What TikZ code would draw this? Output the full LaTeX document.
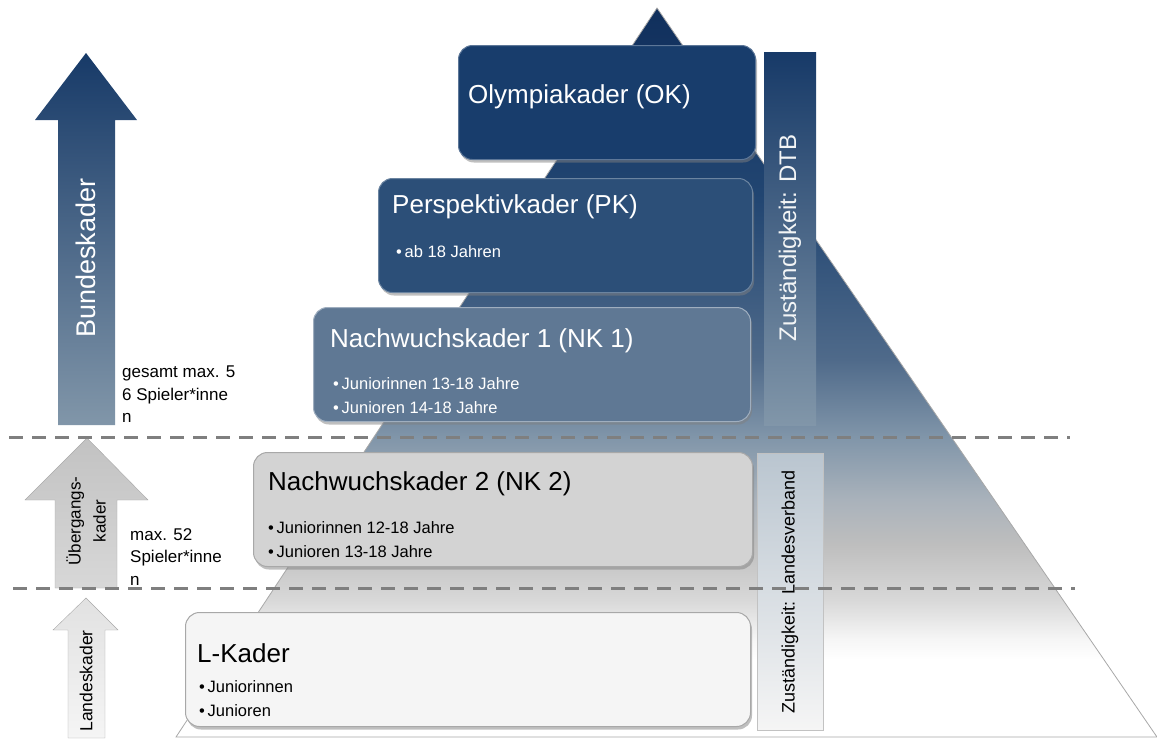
\documentclass[tikz,border=0pt]{standalone}
\usepackage{fontspec}
\setmainfont{Liberation Sans}
\usetikzlibrary{shadows}

% colours of the pyramid shading, bottom to top
\definecolor{pyrA}{HTML}{F6F6F6}
\definecolor{pyrB}{HTML}{D8D8D8}
\definecolor{pyrC}{HTML}{BEBEBE}
\definecolor{pyrD}{HTML}{A9B2BB}
\definecolor{pyrE}{HTML}{8095A9}
\definecolor{pyrF}{HTML}{4F6A8A}
\definecolor{pyrG}{HTML}{224672}
\definecolor{pyrH}{HTML}{102F5C}
\pgfdeclareverticalshading{pyramidshade}{100bp}{color(0bp)=(white); color(30.3bp)=(white);
  color(31.7bp)=(pyrA); color(34.4bp)=(pyrB); color(38.2bp)=(pyrC); color(41.3bp)=(pyrD);
  color(45.6bp)=(pyrE); color(50.9bp)=(pyrF); color(61.8bp)=(pyrG); color(75bp)=(pyrH);
  color(100bp)=(pyrH)}

\begin{document}
\begin{tikzpicture}[x=1pt,y=-1pt,
  kbox/.style={rounded corners=14pt,minimum height=114pt,anchor=north west,line width=1pt,
    drop shadow={shadow xshift=1.5pt,shadow yshift=-3pt,opacity=0.5}},
  ktitle/.style={anchor=base west,inner sep=0pt,font=\fontsize{26}{30}\selectfont},
  kitem/.style={anchor=base west,inner sep=0pt,font=\fontsize{16.5}{20}\selectfont},
  side/.style={anchor=north west,inner sep=0pt,align=left,font=\fontsize{17}{22.5}\selectfont},
  sep/.style={draw=sepgray,line width=3pt,dash pattern=on 14pt off 9pt}]
\definecolor{navy}{HTML}{173A68}
\definecolor{steel}{HTML}{8196A9}
\definecolor{okblue}{HTML}{183D6C}
\definecolor{pkblue}{HTML}{2C4F78}
\definecolor{nkblue}{HTML}{5F7894}
\definecolor{nkgray}{HTML}{D3D3D3}
\definecolor{lgray}{HTML}{F5F5F5}
\definecolor{sepgray}{HTML}{7F7F7F}
\definecolor{rimgray}{HTML}{A8A8A8}
\useasboundingbox (0,0) rectangle (1157,740);

% pyramid
\path[shading=pyramidshade,draw=rimgray,line width=0.8pt] (657,8) -- (1157,737) -- (176,737) -- cycle;

% arrows on the left
\shade[top color=navy,bottom color=steel] (86,53) -- (137,120) -- (115,120) -- (115,425)
  -- (58,425) -- (58,120) -- (35,120) -- cycle;
\node[rotate=90,text=white,font=\fontsize{27}{30}\selectfont] (bund) at (86,258) {Bundeskader};
\shade[top color=nkgray!92!black,bottom color=nkgray!90!white,draw=rimgray] (87,438) -- (148,500) -- (117,500)
  -- (117,588) -- (55,588) -- (55,500) -- (25,500) -- cycle;
\node[rotate=90,align=center,font=\fontsize{17}{25}\selectfont] (ueber) at (86,521) {Übergangs-\\kader};
\shade[top color=lgray!92!black,bottom color=lgray,draw=rimgray] (86,598) -- (118,630) -- (105,630)
  -- (105,738) -- (68,738) -- (68,630) -- (53,630) -- cycle;
\node[rotate=90,font=\fontsize{17.5}{20}\selectfont] (landes) at (86,681) {Landeskader};
\node[side] (gesamt) at (122,366) {gesamt max. 5\\6 Spieler*inne\\n};
\node[side] (max) at (130,528) {max. 52\\Spieler*inne\\n};

% responsibility bars
\shade[top color=navy,bottom color=steel] (764,52) rectangle (816,425);
\node[rotate=90,text=white!90!steel,font=\fontsize{24}{28}\selectfont] (dtb) at (790,238) {Zuständigkeit: DTB};
\shade[top color=steel!55!white,bottom color=lgray,draw=rimgray!70!white] (757,453) rectangle (823,730);
\node[rotate=90,font=\fontsize{18}{22}\selectfont] (lv) at (790,592) {Zuständigkeit: Landesverband};

% squad boxes
\node[kbox,fill=okblue,draw=okblue!70!white,minimum width=297pt] (ok) at (458,45) {};
\node[kbox,fill=pkblue,draw=pkblue!70!white,minimum width=374pt] (pk) at (378,178) {};
\node[kbox,fill=nkblue,draw=nkblue!60!white,minimum width=437pt] (nka) at (313,307) {};
\node[kbox,fill=nkgray,draw=rimgray,minimum width=499pt] (nkb) at (253,452) {};
\node[kbox,fill=lgray,draw=rimgray,minimum width=565pt] (lk) at (185,612) {};

\node[ktitle,text=white] (okt) at (468,103) {Olympiakader (OK)};
\node[ktitle,text=white] (pkt) at (392,213) {Perspektivkader (PK)};
\node[kitem,text=white] (pka) at (396,257) {\textbullet\,ab 18 Jahren};
\node[ktitle,text=white] (nkat) at (330,347) {Nachwuchskader 1 (NK 1)};
\node[kitem,text=white] (nkaa) at (333,389) {\textbullet\,Juniorinnen 13-18 Jahre};
\node[kitem,text=white] (nkab) at (333,413) {\textbullet\,Junioren 14-18 Jahre};
\node[ktitle] (nkbt) at (268,490) {Nachwuchskader 2 (NK 2)};
\node[kitem] (nkba) at (268,533) {\textbullet\,Juniorinnen 12-18 Jahre};
\node[kitem] (nkbb) at (268,557) {\textbullet\,Junioren 13-18 Jahre};
\node[ktitle] (lkt) at (197,662) {L-Kader};
\node[kitem] (lka) at (199,692) {\textbullet\,Juniorinnen};
\node[kitem] (lkb) at (199,716) {\textbullet\,Junioren};

% level borders
\draw[sep] (9,437) -- (1070,437);
\draw[sep] (13,588) -- (1075,588);
\end{tikzpicture}
\end{document}
